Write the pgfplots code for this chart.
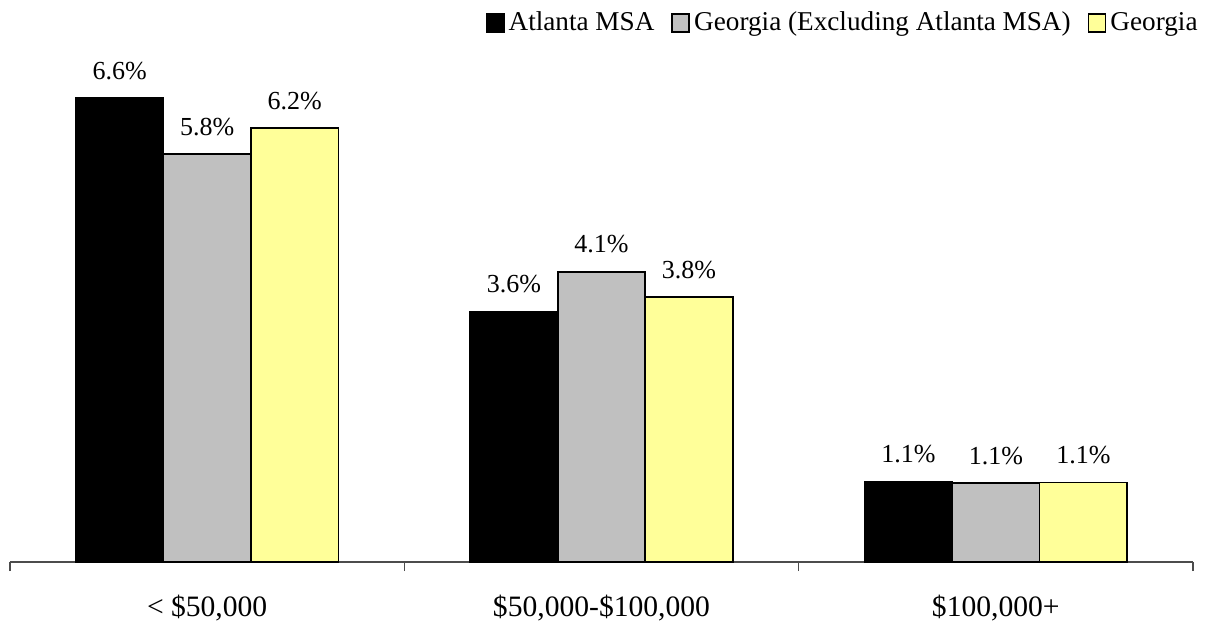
\documentclass[border=0pt]{standalone}
\usepackage{pgfplots}
\pgfplotsset{compat=1.18}
\usepackage{fontspec}
\setmainfont{Liberation Serif}
\definecolor{gbar}{HTML}{C0C0C0}
\definecolor{ybar}{HTML}{FFFF99}
\begin{document}
\begin{tikzpicture}
\begin{axis}[
  at={(0,0)}, anchor=south west,
  scale only axis, width=591.5pt, height=253pt,
  xmin=-0.5, xmax=2.5, ymin=0, ymax=7.2,
  ybar=0pt, bar width=43.75pt,
  axis x line*=bottom, axis y line=none,
  axis line style={black!70, line width=0.6pt},
  xtick={0,1,2},
  xticklabels={{< \$50,000},{\$50,000-\$100,000},{\$100,000+}},
  major tick length=0pt,
  xticklabel style={anchor=base, yshift=-27pt, font=\fontsize{14.8}{17}\selectfont},
  extra x ticks={-0.5,0.5,1.5,2.5},
  extra x tick labels={},
  extra x tick style={major tick length=4.5pt, tick align=outside, tick style={black!70, line width=0.6pt}},
  /pgf/number format/assume math mode=true,
  nodes near coords={\pgfmathprintnumber[fixed,precision=1,fixed zerofill]{\pgfplotspointmeta}\%},
  every node near coord/.append style={font=\fontsize{13}{15}\selectfont, black, yshift=5.5pt},
  legend columns=-1,
  legend style={at={(axis description cs:1,1)}, anchor=east, xshift=4.5pt, yshift=16.5pt,
    draw=none, fill=none, inner sep=0pt, font=\fontsize{13.6}{16}\selectfont,
    /tikz/every even column/.append style={column sep=6.5pt}},
  legend image code/.code={\draw[#1, line width=0.9pt] (-2pt,-4.5pt) rectangle (6.5pt,4.5pt);},
]
\addplot[fill=black, draw=black, line width=0.9pt] coordinates {(0,6.6) (1,3.56) (2,1.14)};
\addplot[fill=gbar, draw=black, line width=0.9pt] coordinates {(0,5.8) (1,4.13) (2,1.12)};
\addplot[fill=ybar, draw=black, line width=0.9pt] coordinates {(0,6.17) (1,3.77) (2,1.13)};
\legend{Atlanta MSA, Georgia (Excluding Atlanta MSA), Georgia}
\end{axis}
\pgfresetboundingbox
\path[use as bounding box] (-5pt,-29.5pt) rectangle (602pt,281pt);
\end{tikzpicture}
\end{document}
